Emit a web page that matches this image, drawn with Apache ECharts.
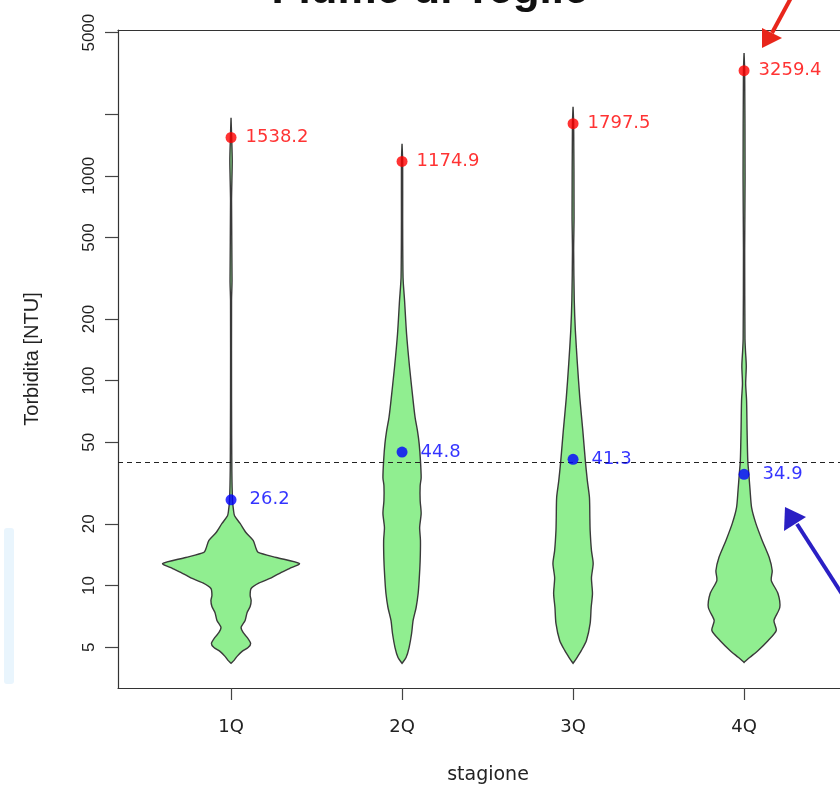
<!DOCTYPE html>
<html><head><meta charset="utf-8">
<script src="https://cdn.jsdelivr.net/npm/echarts@6/dist/echarts.min.js"></script>
<style>html,body{margin:0;padding:0;background:#fff}#c{width:840px;height:792px}</style>
</head><body><div id="c"></div>
<script>
// ---- data ----
const categories = ['1Q', '2Q', '3Q', '4Q'];
const maxValues = [1538.2, 1174.9, 1797.5, 3259.4];
const markValues = [26.2, 44.8, 41.3, 34.9];
const thresholdValue = 40;
const yTickValues = [5, 10, 20, 50, 100, 200, 500, 1000, 2000, 5000];
const yLabelValues = [5, 10, 20, 50, 100, 200, 500, 1000, 5000];
const titleText = 'Fiume di Teglie';

// violin profiles: levels (NTU) and relative density (arbitrary units)
const q1Levels = [4.17, 4.31, 4.51, 4.77, 4.98, 5.21, 5.58, 5.90, 6.24, 6.75, 7.39, 7.90, 8.45, 8.94, 9.67, 10.3, 10.9, 11.6, 12.1, 12.8, 13.7, 14.5, 15.1, 16.6, 18.1, 20.1, 21.9, 23.2, 26.0, 36.4, 79.9, 246, 307, 755, 1183, 1549, 1919];
const q1Density = [0, 3, 6, 11, 17, 19.5, 16, 12, 10, 14, 16, 19, 20, 19, 20, 28, 40, 50, 58, 68, 45, 27, 25, 22, 15, 9, 3.5, 2.5, 1.5, 0.8, 0.5, 0.5, 1.0, 0.5, 1.2, 0.6, 0];
const q2Levels = [4.17, 4.45, 4.98, 5.83, 6.75, 7.81, 9.14, 10.6, 13.2, 16.6, 19.2, 22.5, 26.0, 30.7, 33.6, 40.7, 49.3, 57.0, 66.0, 79.9, 116, 169, 246, 318, 603, 1183, 1432];
const q2Density = [0, 4, 7, 9.5, 11, 14, 16, 17, 18, 18.3, 17.5, 19, 18, 18, 19, 18.3, 17, 15.3, 13, 11, 7.5, 4.5, 2.5, 1, 0.6, 0.6, 0];
const q3Levels = [4.17, 4.40, 4.82, 5.39, 6.53, 7.81, 9.14, 10.9, 12.8, 14.8, 18.5, 21.5, 26.9, 32.5, 40.7, 57.0, 82.6, 121, 175, 246, 431, 631, 1794, 2171];
const q3Density = [0, 3.3, 8.3, 13.3, 17, 18, 19.3, 18.3, 20, 18.3, 17, 16.7, 16.3, 14.2, 12.2, 9.7, 6.7, 4.3, 2.3, 1.2, 0.6, 1, 0.6, 0];
const q4Levels = [4.21, 4.45, 4.82, 5.39, 6.03, 6.75, 7.81, 9.14, 10.6, 11.8, 13.7, 16.6, 20.1, 24.0, 29.1, 35.2, 40.7, 57.0, 79.9, 96.7, 118, 140, 160, 431, 989, 3250, 3981];
const q4Density = [0, 5.5, 14, 24, 32, 29.7, 35.5, 33.7, 27, 28, 25, 18, 11.7, 7.5, 6, 4.7, 3.7, 3, 2.5, 1.6, 2.2, 1.4, 0.9, 0.6, 1, 0.6, 0];

const violinLevels = [q1Levels, q2Levels, q3Levels, q4Levels];
const violinDensity = [q1Density, q2Density, q3Density, q4Density];

// ---- chart ----
const FONT = 'Liberation Sans, Arial, Helvetica, sans-serif';
const WFONT = 'DejaVu Sans, Liberation Sans, sans-serif';
const densityMax = Math.max(...violinDensity.map(d => Math.max(...d)));
const maxHalfWidth = 0.4; // in category units
const chart = echarts.init(document.getElementById('c'), null, {renderer: 'canvas'});
const boxLine = {show: true, lineStyle: {color: '#333', width: 1.2}};

const option = {
  animation: false,
  backgroundColor: '#fff',
  grid: {left: 118, right: 0, top: 30, bottom: 104, show: false},
  xAxis: [{
    type: 'value', min: 0.339, max: 4.561,
    splitLine: {show: false}, axisLine: boxLine,
    axisTick: {show: true, customValues: [1, 2, 3, 4], length: 12, lineStyle: {color: '#444', width: 1.2}},
    axisLabel: {customValues: [1, 2, 3, 4], formatter: v => categories[Math.round(v) - 1], margin: 30, fontSize: 18, color: '#222', fontFamily: WFONT},
    name: 'stagione', nameLocation: 'middle', nameGap: 78,
    nameTextStyle: {fontSize: 19, color: '#222', fontFamily: WFONT, padding: [0, 0, 0, 18]}
  }, {
    type: 'value', position: 'top', min: 0.339, max: 4.561,
    splitLine: {show: false}, axisLine: boxLine, axisTick: {show: false}, axisLabel: {show: false}
  }],
  yAxis: {
    type: 'log', logBase: 10, min: 3.16, max: 5150,
    splitLine: {show: false}, axisLine: boxLine,
    axisTick: {show: true, customValues: yTickValues, length: 13, lineStyle: {color: '#444', width: 1.2}},
    axisLabel: {customValues: yLabelValues, formatter: v => String(Math.round(v)), rotate: 90, margin: 20, fontSize: 17, color: '#222', fontFamily: FONT},
    name: 'Torbidita [NTU]', nameLocation: 'middle', nameRotate: 90, nameGap: 76,
    nameTextStyle: {fontSize: 20, color: '#222', fontFamily: FONT}
  },
  graphic: [
    {type: 'text', x: 430, y: 13, z: 10,
      style: {text: titleText, font: 'bold 44px ' + FONT, fill: '#111', textAlign: 'center', textVerticalAlign: 'bottom'}},
    {type: 'rect', shape: {x: 4, y: 528, width: 10, height: 156, r: 3}, style: {fill: '#e9f5fd'}, z: 0},
    {type: 'line', shape: {x1: 792, y1: -4, x2: 772, y2: 33}, style: {stroke: '#e8261b', lineWidth: 4}, z: 20},
    {type: 'polygon', shape: {points: [[762, 48], [762, 28], [782, 38]]}, style: {fill: '#e8261b'}, z: 20},
    {type: 'line', shape: {x1: 842, y1: 594, x2: 797, y2: 524}, style: {stroke: '#2a1fc4', lineWidth: 4}, z: 20},
    {type: 'polygon', shape: {points: [[785, 507], [784, 531], [806, 517]]}, style: {fill: '#2a1fc4'}, z: 20}
  ],
  series: [
    {
      type: 'custom', z: 2,
      data: categories.map((c, i) => [i + 1, markValues[i]]),
      encode: {x: 0, y: 1},
      renderItem: function (params, api) {
        const i = params.dataIndex;
        const lv = violinLevels[i], dn = violinDensity[i];
        const right = [], left = [];
        for (let k = 0; k < lv.length; k++) {
          const w = dn[k] === 0 ? 0 : Math.max(dn[k], 0.3) / densityMax * maxHalfWidth;
          right.push(api.coord([i + 1 + w, lv[k]]));
          left.push(api.coord([i + 1 - w, lv[k]]));
        }
        const pts = right.concat(left.reverse());
        return {type: 'polygon', shape: {points: pts, smooth: 0.25},
          style: {fill: '#90ee90', stroke: '#3a3a3a', lineWidth: 1.4}};
      }
    },
    {
      type: 'scatter', z: 5, symbolSize: 11,
      data: maxValues.map((v, i) => [i + 1, v]),
      itemStyle: {color: '#ff0000'},
      label: {show: true, position: 'right', distance: 9, formatter: p => p.value[1].toFixed(1), color: '#ff0000', fontSize: 18, fontFamily: WFONT}
    },
    {
      type: 'scatter', z: 5, symbolSize: 11,
      data: markValues.map((v, i) => [i + 1, v]),
      itemStyle: {color: '#0000ff'},
      label: {show: true, position: 'right', distance: 13, formatter: p => p.value[1].toFixed(1), color: '#0000ff', fontSize: 18, fontFamily: WFONT},
      markLine: {
        silent: true, symbol: 'none', label: {show: false},
        lineStyle: {color: '#222', type: [5, 4], width: 1.1},
        data: [{yAxis: thresholdValue}]
      }
    }
  ]
};
chart.setOption(option);
</script></body></html>
